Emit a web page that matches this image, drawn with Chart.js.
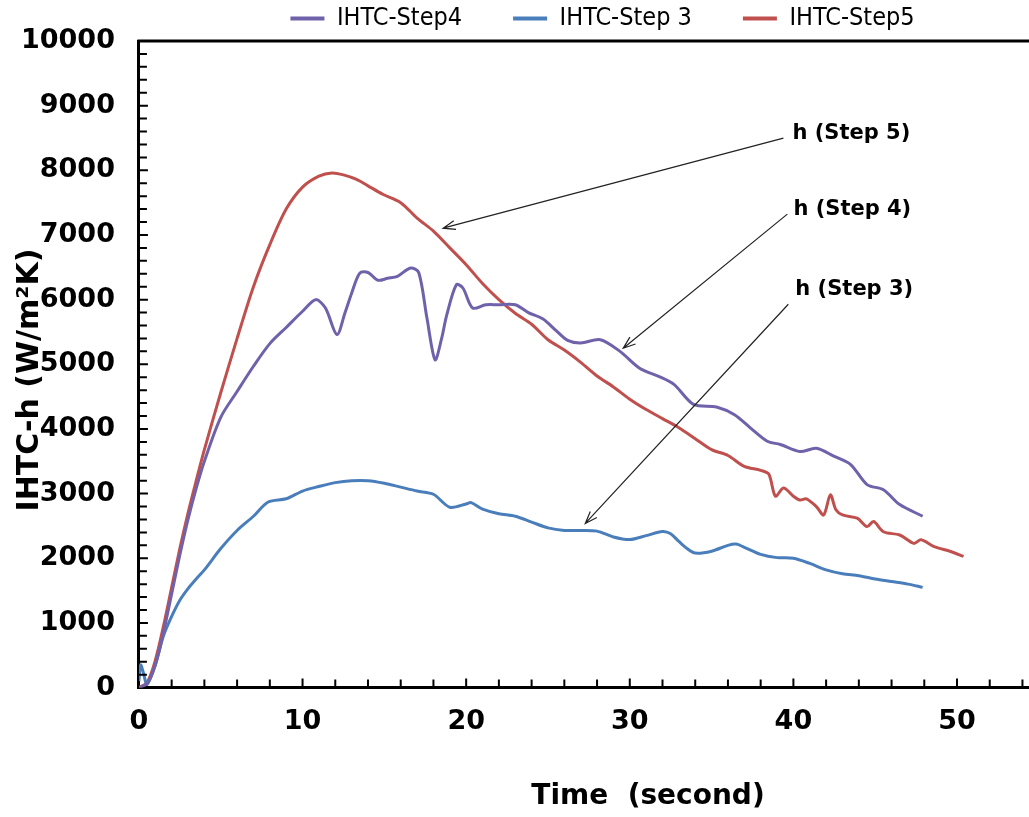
<!DOCTYPE html>
<html>
<head>
<meta charset="utf-8">
<script src="https://cdn.jsdelivr.net/npm/chart.js@4.4.1/dist/chart.umd.min.js"></script>
<style>
  html, body { margin: 0; padding: 0; background: #fff; }
  #wrap { width: 1029px; height: 817px; position: relative; }
</style>
</head>
<body>
<div id="wrap"><canvas id="ihtc"></canvas></div>
<script>
// time (s) and IHTC (W/m2K)
var step4T = [0, 0.5, 1.0, 1.5, 2.0, 2.5, 3.0, 3.5, 4.0, 5.0, 6.0, 7.0, 8.0, 9.0, 10.0, 10.8, 11.4, 12.1, 12.6, 13.0, 13.5, 14.0, 14.6, 15.2, 15.8, 16.6, 17.1, 17.6, 18.1, 18.5, 18.8, 19.4, 19.8, 20.4, 21.2, 22.0, 23.0, 23.8, 24.7, 25.5, 26.2, 27.0, 28.2, 29.4, 30.6, 31.8, 32.7, 33.9, 35.3, 36.4, 37.4, 38.4, 39.2, 40.4, 41.4, 42.5, 43.5, 44.5, 45.5, 46.5, 47.9];
var step4H = [0, 60, 350, 850, 1450, 2050, 2600, 3080, 3500, 4180, 4580, 4970, 5320, 5570, 5820, 6000, 5870, 5460, 5800, 6100, 6410, 6420, 6300, 6330, 6360, 6490, 6420, 5720, 5070, 5400, 5750, 6230, 6180, 5870, 5920, 5920, 5920, 5800, 5700, 5520, 5370, 5330, 5380, 5200, 4940, 4810, 4690, 4380, 4340, 4220, 4010, 3810, 3760, 3650, 3700, 3575, 3450, 3140, 3060, 2830, 2650];

var step3T = [0, 0.1, 0.25, 0.5, 1.0, 1.5, 2.0, 2.5, 3.0, 3.5, 4.0, 5.0, 6.0, 7.0, 7.9, 9.0, 10.0, 11.0, 12.0, 13.0, 14.0, 15.0, 16.0, 17.0, 18.0, 19.0, 20.0, 20.3, 21.0, 22.0, 23.0, 24.0, 25.0, 26.0, 27.0, 28.0, 29.0, 30.0, 31.0, 32.0, 32.5, 33.0, 33.5, 34.0, 35.0, 36.0, 36.5, 37.0, 38.0, 39.0, 40.0, 41.0, 42.0, 43.0, 44.0, 45.0, 46.0, 47.0, 47.9];
var step3H = [100, 350, 250, 50, 350, 800, 1100, 1350, 1530, 1680, 1820, 2150, 2430, 2650, 2870, 2920, 3040, 3110, 3170, 3200, 3200, 3160, 3100, 3040, 2990, 2790, 2840, 2860, 2760, 2690, 2650, 2560, 2470, 2430, 2430, 2420, 2330, 2290, 2350, 2415, 2380, 2260, 2150, 2080, 2110, 2200, 2220, 2170, 2060, 2010, 2000, 1920, 1820, 1760, 1730, 1680, 1640, 1600, 1550];

var step5T = [0, 0.5, 1.0, 1.5, 2.0, 2.5, 3.0, 3.5, 4.0, 5.0, 6.0, 7.0, 8.0, 9.0, 10.0, 11.0, 11.8, 12.5, 13.3, 14.0, 14.9, 16.0, 17.0, 18.0, 19.0, 20.0, 21.0, 22.0, 23.0, 24.0, 25.0, 26.0, 27.0, 28.0, 29.0, 30.0, 31.0, 32.0, 33.0, 34.0, 35.0, 36.0, 37.0, 38.0, 38.5, 38.9, 39.4, 40.0, 40.4, 40.8, 41.4, 41.85, 42.26, 42.6, 43.0, 43.9, 44.5, 44.9, 45.5, 46.5, 47.36, 47.8, 48.6, 49.6, 50.4];
var step5H = [0, 80, 420, 950, 1550, 2150, 2700, 3200, 3680, 4560, 5400, 6200, 6850, 7400, 7740, 7910, 7960, 7930, 7860, 7760, 7630, 7500, 7260, 7060, 6800, 6540, 6250, 6000, 5790, 5620, 5380, 5220, 5030, 4820, 4650, 4460, 4300, 4160, 4020, 3850, 3680, 3590, 3420, 3360, 3300, 2960, 3085, 2960, 2900, 2920, 2800, 2670, 2980, 2750, 2670, 2620, 2490, 2570, 2410, 2360, 2230, 2285, 2180, 2105, 2030];

var seriesNames = ["IHTC-Step4", "IHTC-Step 3", "IHTC-Step5"];
var seriesColors = ["#6f62aa", "#4a7ebb", "#c0504d"];

// callouts: text anchor, arrow tail, arrow tip (in data units)
var noteText = ["h (Step 5)", "h (Step 4)", "h (Step 3)"];
var noteAt = [[39.94, 8576], [40.0, 7399], [40.12, 6161]];
var noteFrom = [[39.39, 8498], [39.63, 7322], [39.69, 5929]];
var noteTo = [[18.59, 7105], [29.6, 5248], [27.28, 2539]];

function pts(t, h) {
    return t.map(function (v, i) { return { x: v, y: h[i] }; });
}

var decor = {
    id: "decor",
    afterLayout: function (chart) {
        // legend sits right of centre in the original
        chart.legend.left += 112;
        chart.legend.right += 112;
    },
    afterDraw: function (chart) {
        var ctx = chart.ctx;
        var a = chart.chartArea;
        var xs = chart.scales.x, ys = chart.scales.y;
        ctx.save();
        ctx.strokeStyle = "#000";

        // top frame line
        ctx.lineWidth = 3;
        ctx.beginPath();
        ctx.moveTo(a.left - 1.5, a.top);
        ctx.lineTo(a.right, a.top);
        ctx.stroke();

        // inward ticks
        ctx.lineWidth = 2;
        ctx.beginPath();
        for (var t = 2; t <= 54; t += 2) {
            var px = xs.getPixelForValue(t);
            ctx.moveTo(px, a.bottom);
            ctx.lineTo(px, a.bottom - (t % 10 === 0 ? 9 : 8));
        }
        for (var v = 200; v < 10000; v += 200) {
            var py = ys.getPixelForValue(v);
            ctx.moveTo(a.left, py);
            ctx.lineTo(a.left + (v % 1000 === 0 ? 9 : 8), py);
        }
        ctx.stroke();

        // axis titles
        ctx.fillStyle = "#000";
        ctx.font = "bold 28px 'DejaVu Sans'";
        ctx.textAlign = "center";
        ctx.textBaseline = "middle";
        ctx.fillText("Time  (second)", 648, 797);

        ctx.save();
        ctx.translate(30, 380);
        ctx.rotate(-Math.PI / 2);
        ctx.font = "bold 30px 'DejaVu Sans'";
        ctx.fillText("IHTC-h (W/m\u00b2K)", 0, 0);
        ctx.restore();

        // callouts
        ctx.font = "bold 21px 'DejaVu Sans'";
        ctx.textAlign = "left";
        ctx.lineWidth = 1.2;
        ctx.strokeStyle = "#222";
        for (var i = 0; i < noteText.length; i++) {
            ctx.fillText(noteText[i], xs.getPixelForValue(noteAt[i][0]), ys.getPixelForValue(noteAt[i][1]));
            var x0 = xs.getPixelForValue(noteFrom[i][0]), y0 = ys.getPixelForValue(noteFrom[i][1]);
            var x1 = xs.getPixelForValue(noteTo[i][0]), y1 = ys.getPixelForValue(noteTo[i][1]);
            var ang = Math.atan2(y1 - y0, x1 - x0);
            ctx.beginPath();
            ctx.moveTo(x0, y0);
            ctx.lineTo(x1, y1);
            ctx.moveTo(x1 - 13 * Math.cos(ang - 0.35), y1 - 13 * Math.sin(ang - 0.35));
            ctx.lineTo(x1, y1);
            ctx.lineTo(x1 - 13 * Math.cos(ang + 0.35), y1 - 13 * Math.sin(ang + 0.35));
            ctx.stroke();
        }
        ctx.restore();
    }
};

new Chart("ihtc", {
    type: "line",
    data: {
        datasets: [
            { label: seriesNames[0], data: pts(step4T, step4H), borderColor: seriesColors[0], backgroundColor: seriesColors[0] },
            { label: seriesNames[1], data: pts(step3T, step3H), borderColor: seriesColors[1], backgroundColor: seriesColors[1] },
            { label: seriesNames[2], data: pts(step5T, step5H), borderColor: seriesColors[2], backgroundColor: seriesColors[2] }
        ]
    },
    options: {
        responsive: true,
        maintainAspectRatio: false,
        animation: false,
        layout: { padding: { left: -3, right: 0, top: 0, bottom: 61 } },
        elements: {
            line: { borderWidth: 3, tension: 0.3 },
            point: { radius: 0 }
        },
        plugins: {
            tooltip: { enabled: false },
            legend: {
                position: "top",
                labels: {
                    boxWidth: 34,
                    boxHeight: 4,
                    padding: 6,
                    color: "#000",
                    font: { family: "'Liberation Sans Narrow', 'DejaVu Sans Condensed', sans-serif", size: 25 },
                    generateLabels: function (chart) {
                        return chart.data.datasets.map(function (d, i) {
                            return { text: d.label + "\u2003\u2003", fillStyle: d.borderColor, strokeStyle: d.borderColor, lineWidth: 0, datasetIndex: i, fontColor: "#000" };
                        });
                    }
                }
            }
        },
        scales: {
            x: {
                type: "linear",
                min: 0,
                max: 54.4,
                grid: { display: false, drawTicks: false },
                border: { display: true, color: "#000", width: 3 },
                ticks: {
                    stepSize: 10,
                    includeBounds: false,
                    padding: 18,
                    color: "#000",
                    font: { family: "'DejaVu Sans'", size: 27, weight: "bold" },
                    maxRotation: 0,
                    callback: function (v) { return String(v); }
                }
            },
            y: {
                min: 0,
                max: 10000,
                grid: { display: false, drawTicks: false },
                border: { display: true, color: "#000", width: 3 },
                ticks: {
                    stepSize: 1000,
                    padding: 24,
                    color: "#000",
                    font: { family: "'DejaVu Sans'", size: 27, weight: "bold" },
                    callback: function (v) { return String(v); }
                }
            }
        }
    },
    plugins: [decor]
});
</script>
</body>
</html>
